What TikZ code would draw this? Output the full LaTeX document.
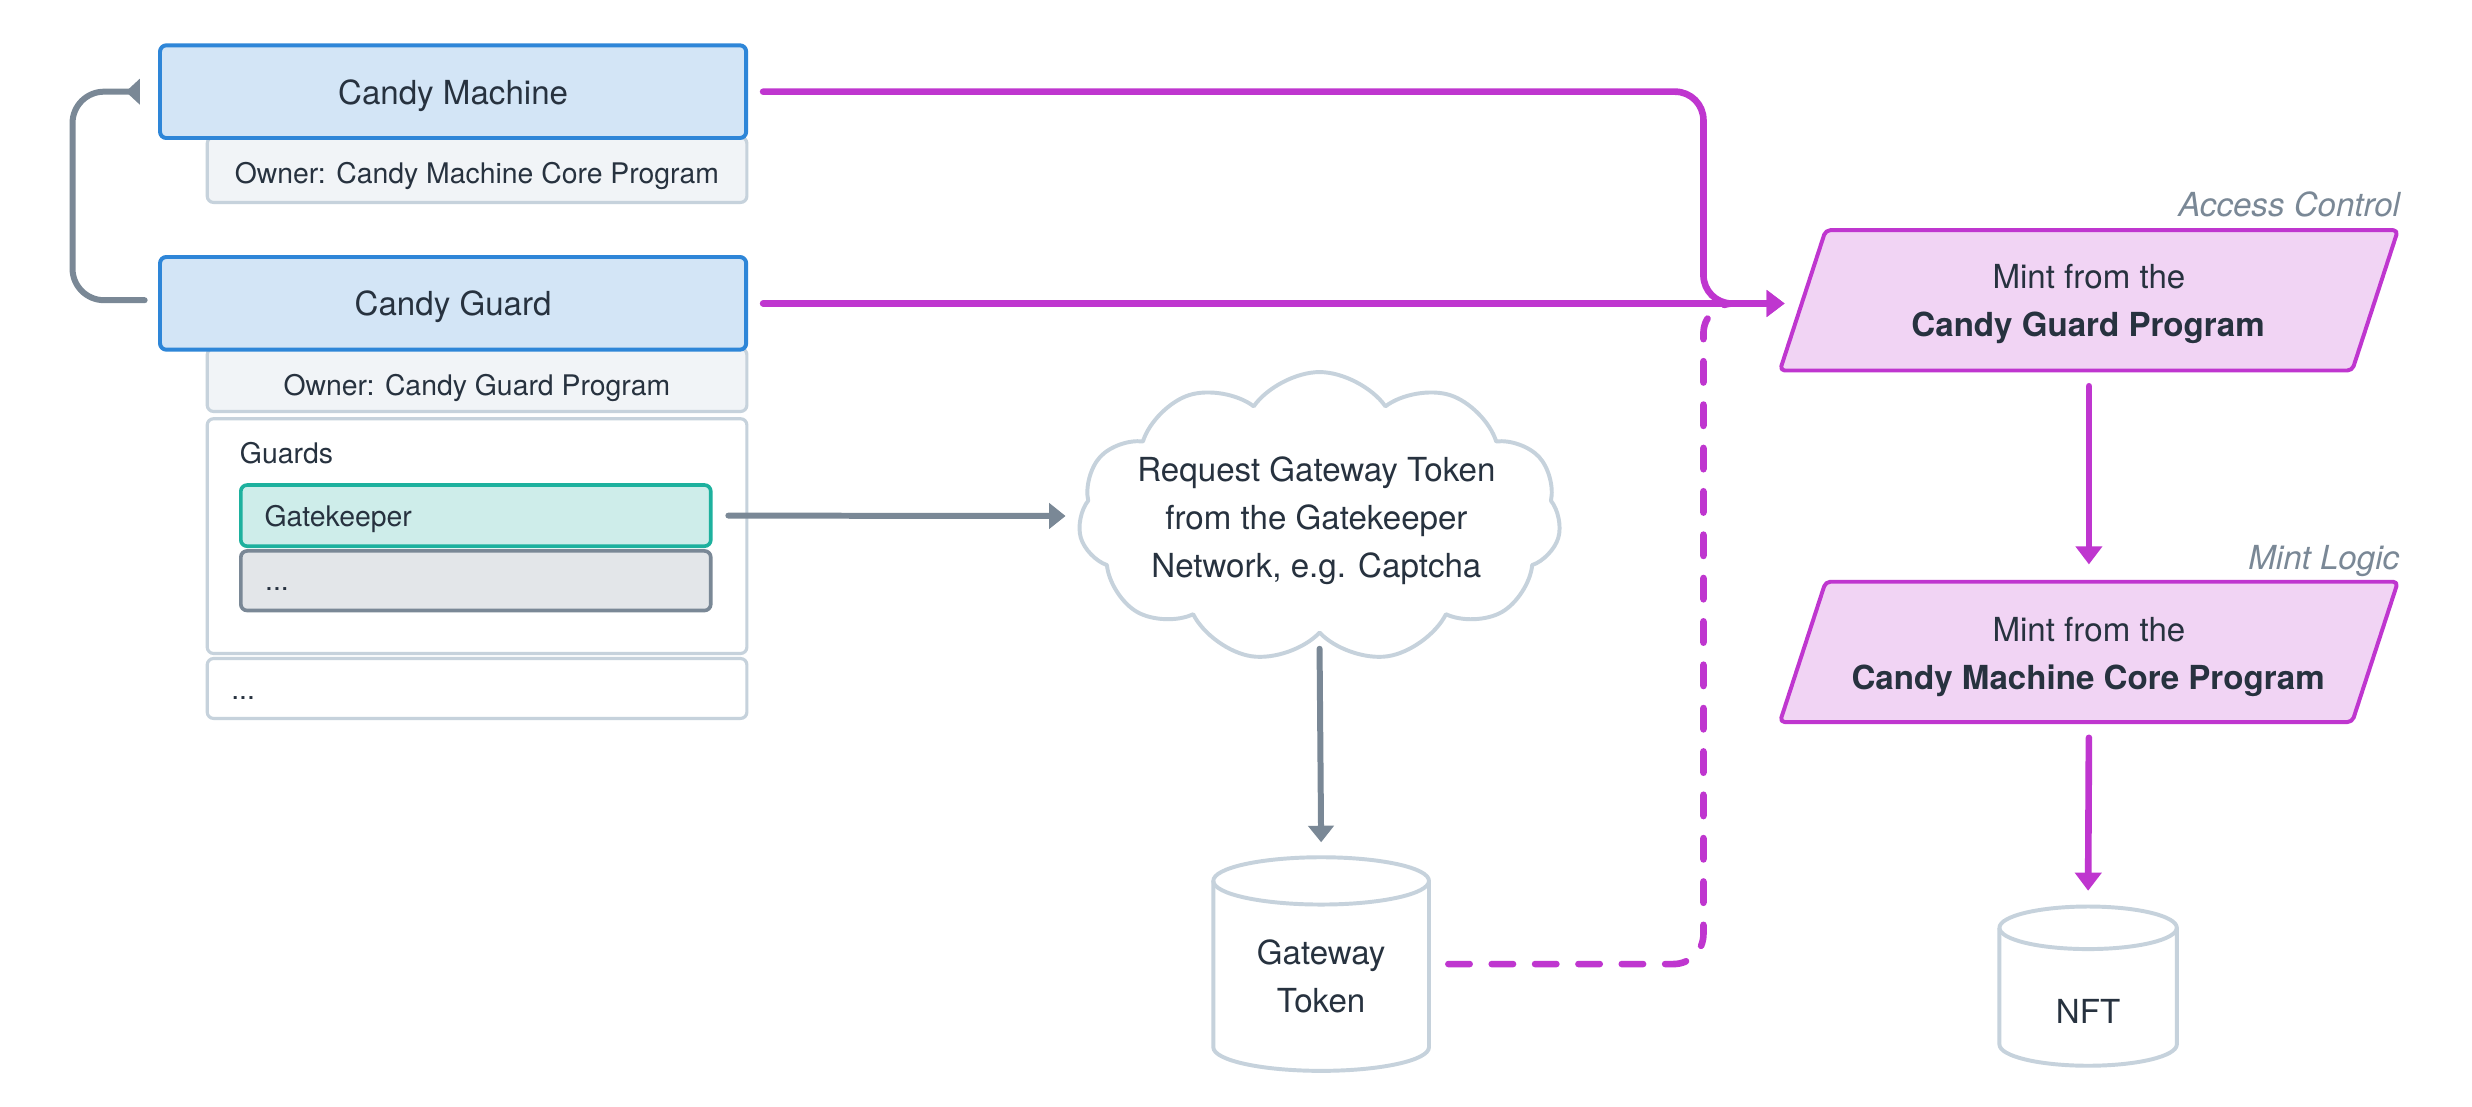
\documentclass[tikz,border=0pt]{standalone}
\usepackage{fontspec}
\setmainfont{TeX Gyre Heros}
\usetikzlibrary{shapes.symbols,arrows.meta,calc}
\definecolor{txt}{HTML}{27323F}
\definecolor{cmblue}{HTML}{2E86D8}
\definecolor{cmfill}{HTML}{D3E5F6}
\definecolor{ownfill}{HTML}{F1F4F7}
\definecolor{ownline}{HTML}{C6D2DC}
\definecolor{tealline}{HTML}{1DB19E}
\definecolor{tealfill}{HTML}{CEEDEA}
\definecolor{grayline}{HTML}{7A8896}
\definecolor{grayfill}{HTML}{E3E6E9}
\definecolor{mag}{HTML}{BF36CF}
\definecolor{magfill}{HTML}{F1D4F4}
\begin{document}
\begin{tikzpicture}[x=1pt,y=-1pt,line join=round,
  titlebox/.style={draw=cmblue,fill=cmfill,line width=2.5pt,rounded corners=4pt,inner sep=0pt},
  ownbox/.style={draw=ownline,fill=ownfill,line width=2pt,rounded corners=4pt,inner sep=0pt},
  plainbox/.style={draw=ownline,fill=white,line width=2pt,rounded corners=4pt,inner sep=0pt},
  gkbox/.style={draw=tealline,fill=tealfill,line width=2.3pt,rounded corners=4pt,inner sep=0pt},
  dotbox/.style={draw=grayline,fill=grayfill,line width=2.3pt,rounded corners=4pt,inner sep=0pt},
  ghost/.style={inner sep=0pt,outer sep=0pt},
  para/.style={draw=mag,fill=magfill,line width=2.5pt,rounded corners=3pt},
  cyl/.style={draw=ownline,line width=2.5pt},
  tx/.style={inner sep=0pt,text=txt,anchor=base},
  big/.style={font=\fontsize{21}{25}\selectfont},
  small/.style={font=\fontsize{18}{22}\selectfont},
  bigbold/.style={font=\fontsize{21}{25}\selectfont\bfseries},
  lbl/.style={inner sep=0pt,text=grayline,anchor=base east,font=\fontsize{21}{25}\selectfont\itshape},
  grayarr/.style={draw=grayline,line width=3.8pt,line cap=round,-{Triangle[length=10.5pt,width=16pt]}},
  magarr/.style={draw=mag,line width=4.2pt,line cap=round,-{Triangle[length=11.5pt,width=16.5pt]}},
  magdash/.style={draw=mag,line width=4.2pt,line cap=round,dash pattern=on 13.5pt off 14pt}
]
\fill[white] (0,0) rectangle (1568,701.6);
\path[use as bounding box] (0,0) rectangle (1568,701.6);

% left column boxes
\node[ownbox,minimum width=342.3pt,minimum height=41.4pt] (cmo) at (302.6,107.7) {};
\node[titlebox,minimum width=371.8pt,minimum height=58.8pt] (CM) at (287.4,58.15) {};
\node[ownbox,minimum width=342.3pt,minimum height=40pt] (cgo) at (302.6,241) {};
\node[titlebox,minimum width=371.8pt,minimum height=58.8pt] (CG) at (287.4,192.4) {};
\node[plainbox,minimum width=342.3pt,minimum height=148.9pt] (guards) at (302.6,340.05) {};
\node[dotbox,minimum width=298.1pt,minimum height=37.8pt] (dots) at (301.8,368.35) {};
\node[gkbox,minimum width=298.1pt,minimum height=38.8pt] (gk) at (301.8,327.05) {};
\node[plainbox,minimum width=342.3pt,minimum height=38pt] (more) at (302.6,436.7) {};

\node[tx,big] (cmt) at (287.4,66.6) {Candy Machine};
\node[tx,small] (cmot) at (302.5,116.3) {Owner: Candy Machine Core Program};
\node[tx,big] (cgt) at (287.4,200.4) {Candy Guard};
\node[tx,small] (cgot) at (302.5,250.7) {Owner: Candy Guard Program};
\node[tx,small,anchor=base west] (gdt) at (152,293.7) {Guards};
\node[tx,small,anchor=base west] (gkt) at (167.6,334) {Gatekeeper};
\node[tx,small,anchor=base west] (dt1) at (168,374.5) {...};
\node[tx,small,anchor=base west] (dt2) at (146.5,443.5) {...};

% cloud
\node[cloud,cloud puffs=11,cloud puff arc=110,cloud ignores aspect,draw=ownline,fill=white,line width=2.5pt,minimum width=306pt,minimum height=184pt] (cloud) at (837,328) {};
\node[tx,big] (c1) at (835,305.6) {Request Gateway Token};
\node[tx,big] (c2) at (835,336) {from the Gatekeeper};
\node[tx,big] (c3) at (835,366.5) {Network, e.g. Captcha};

% gateway token cylinder
\node[ghost,minimum width=136.8pt,minimum height=135.5pt] (gt) at (838,611.5) {};
\draw[cyl] ($(gt.north)+(0,15)$) ellipse[x radius=68.4pt,y radius=15pt];
\draw[cyl] ($(gt.north west)+(0,15)$) -- ($(gt.south west)+(0,-15)$) arc[start angle=180,end angle=360,x radius=68.4pt,y radius=15pt] -- ($(gt.north east)+(0,15)$);
\node[tx,big] (gt1) at (838,612) {Gateway};
\node[tx,big] (gt2) at (838,642) {Token};

% NFT cylinder
\node[ghost,minimum width=112.5pt,minimum height=101pt] (nft) at (1324.5,625.5) {};
\draw[cyl] ($(nft.north)+(0,13.5)$) ellipse[x radius=56.25pt,y radius=13.5pt];
\draw[cyl] ($(nft.north west)+(0,13.5)$) -- ($(nft.south west)+(0,-13.5)$) arc[start angle=180,end angle=360,x radius=56.25pt,y radius=13.5pt] -- ($(nft.north east)+(0,13.5)$);
\node[tx,big] (nftt) at (1324.5,649) {NFT};

% parallelograms
\node[ghost,minimum width=392pt,minimum height=89pt] (mg) at (1325,190.5) {};
\draw[para] ($(mg.north west)+(29,0)$) -- (mg.north east) -- ($(mg.south east)+(-29,0)$) -- (mg.south west) -- cycle;
\node[tx,big] (mg1) at (1325,182.7) {Mint from the};
\node[tx,bigbold] (mg2) at (1324.5,213.6) {Candy Guard Program};
\node[lbl] (acl) at (1522.5,137.5) {Access Control};

\node[ghost,minimum width=392pt,minimum height=89pt] (ml) at (1325,413.5) {};
\draw[para] ($(ml.north west)+(29,0)$) -- (ml.north east) -- ($(ml.south east)+(-29,0)$) -- (ml.south west) -- cycle;
\node[tx,big] (ml1) at (1325,407) {Mint from the};
\node[tx,bigbold] (ml2) at (1324.5,437.5) {Candy Machine Core Program};
\node[lbl] (mll) at (1522,361) {Mint Logic};

\coordinate (mgin) at ($(mg.west)+(3,2)$);

% gray connectors
\draw[grayarr,-{Triangle[reversed,length=9pt,width=16pt]},rounded corners=20pt] ($(CG.west)+(-8.5,-2)$) -| ($(CM.west)+(-54.25,0)$) -- ($(CM.west)+(-11.5,0)$);
\draw[grayarr] ($(gk.east)+(10,0)$) -- ($(cloud.west)+(-8,-0.7)$);
\draw[grayarr] ($(cloud.south)+(0,8.5)$) -- ($(gt.north)+(0,-9.5)$);

% magenta connectors
\draw[magdash,rounded corners=19pt] ($(gt.east)+(12.3,0)$) -| ($(mgin)+(-51.5,0)$) -- ($(mgin)+(-14,0)$);
\draw[magarr,rounded corners=18pt] ($(CM.east)+(9.5,0)$) -| ($(mgin)+(-51.5,0)$) -- (mgin);
\draw[magarr] ($(CG.east |- mgin)+(9.5,0)$) -- (mgin);
\draw[magarr] ($(mg.south)+(0,10)$) -- ($(ml.north)+(0,-11)$);
\draw[magarr] ($(ml.south)+(0,10)$) -- ($(nft.north)+(0,-10)$);
\end{tikzpicture}
\end{document}
